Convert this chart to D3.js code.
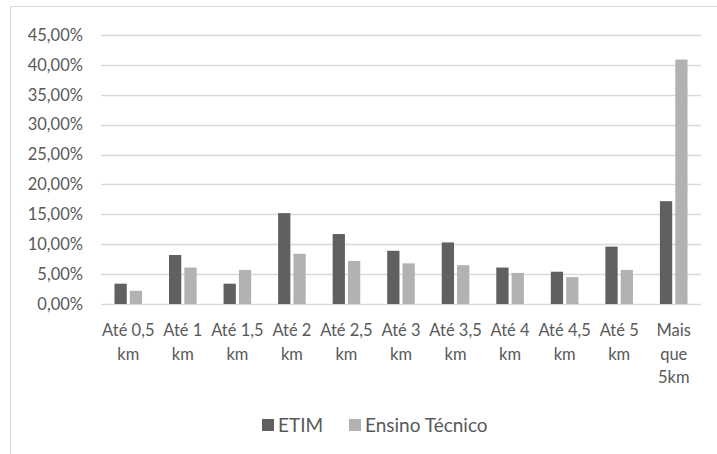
<!DOCTYPE html>
<html>
<head>
<meta charset="utf-8">
<script src="https://cdn.jsdelivr.net/npm/d3@7"></script>
<style>
  body { margin: 0; background: #fff; }
  text { font-family: Lato, "Open Sans", sans-serif; fill: #595959; }
</style>
</head>
<body>
<div id="chart"></div>
<script>
// Data
const categories = ["Até 0,5 km", "Até 1 km", "Até 1,5 km", "Até 2 km", "Até 2,5 km", "Até 3 km",
                    "Até 3,5 km", "Até 4 km", "Até 4,5 km", "Até 5 km", "Mais que 5km"];
const categoryLines = [["Até 0,5", "km"], ["Até 1", "km"], ["Até 1,5", "km"], ["Até 2", "km"],
                       ["Até 2,5", "km"], ["Até 3", "km"], ["Até 3,5", "km"], ["Até 4", "km"],
                       ["Até 4,5", "km"], ["Até 5", "km"], ["Mais", "que", "5km"]];
const seriesNames = ["ETIM", "Ensino Técnico"];
const etim = [3.4, 8.2, 3.4, 15.2, 11.7, 8.9, 10.3, 6.1, 5.4, 9.6, 17.2];
const ensinoTecnico = [2.2, 6.1, 5.7, 8.4, 7.2, 6.8, 6.5, 5.2, 4.5, 5.7, 40.9];
const yTicks = [0, 5, 10, 15, 20, 25, 30, 35, 40, 45];
const colors = ["#606060", "#b2b2b2"];

const width = 717, height = 454;
const margin = { top: 35, left: 101, right: 16, bottom: 150 };
const plotW = width - margin.left - margin.right;
const plotH = height - margin.top - margin.bottom;

const svg = d3.select("#chart")
    .append("svg")
    .attr("width", width)
    .attr("height", height);

// Chart area border (runs past the picture on the right and bottom)
svg.append("rect")
    .attr("x", 10.5).attr("y", 6.5)
    .attr("width", 730).attr("height", 470)
    .attr("fill", "none")
    .attr("stroke", "#d9d9d9");

const g = svg.append("g")
    .attr("transform", `translate(${margin.left},${margin.top})`);

const x = d3.scaleBand().domain(categories).range([0, plotW]);
const step = x.step();
const xs = d3.scaleBand().domain(seriesNames)
    .range([0.247 * step, 0.753 * step])
    .paddingInner(0.2);
const y = d3.scaleLinear().domain([0, 45]).range([plotH, 0]);

// Gridlines
g.selectAll(".grid")
    .data(yTicks)
    .enter().append("line")
    .attr("x1", 0).attr("x2", plotW)
    .attr("y1", d => Math.round(y(d)) + 0.5)
    .attr("y2", d => Math.round(y(d)) + 0.5)
    .attr("stroke", "#d9d9d9")
    .attr("stroke-width", 1.3);

// Y labels
g.selectAll(".ylab")
    .data(yTicks)
    .enter().append("text")
    .attr("x", -18)
    .attr("y", d => y(d))
    .attr("dy", "0.35em")
    .attr("text-anchor", "end")
    .style("font-size", "16.5px")
    .text(d => d3.format(".2f")(d).replace(".", ",") + "%");

// Bars
const seriesData = [etim, ensinoTecnico];
seriesData.forEach((vals, si) => {
    g.selectAll(".bar" + si)
        .data(vals)
        .enter().append("rect")
        .attr("x", (d, i) => x(categories[i]) + xs(seriesNames[si]))
        .attr("y", d => y(d))
        .attr("width", xs.bandwidth())
        .attr("height", d => y(0) - y(d))
        .attr("fill", colors[si]);
});

// X labels
const xl = g.selectAll(".xlab")
    .data(categories)
    .enter().append("text")
    .attr("text-anchor", "middle")
    .attr("transform", d => `translate(${x(d) + step / 2},${plotH + 32})`)
    .style("font-size", "16.5px");
xl.selectAll("tspan")
    .data((d, i) => categoryLines[i])
    .enter().append("tspan")
    .attr("x", 0)
    .attr("y", (d, i) => i * 23.5)
    .text(d => d);

// Legend
const legend = svg.append("g").attr("transform", "translate(262,432)");
const legendX = [0, 87];
seriesNames.forEach((name, i) => {
    legend.append("rect")
        .attr("x", legendX[i]).attr("y", -13)
        .attr("width", 12).attr("height", 12)
        .attr("fill", colors[i]);
    legend.append("text")
        .attr("x", legendX[i] + 16).attr("y", 0)
        .style("font-size", "19px")
        .text(name);
});
</script>
</body>
</html>
